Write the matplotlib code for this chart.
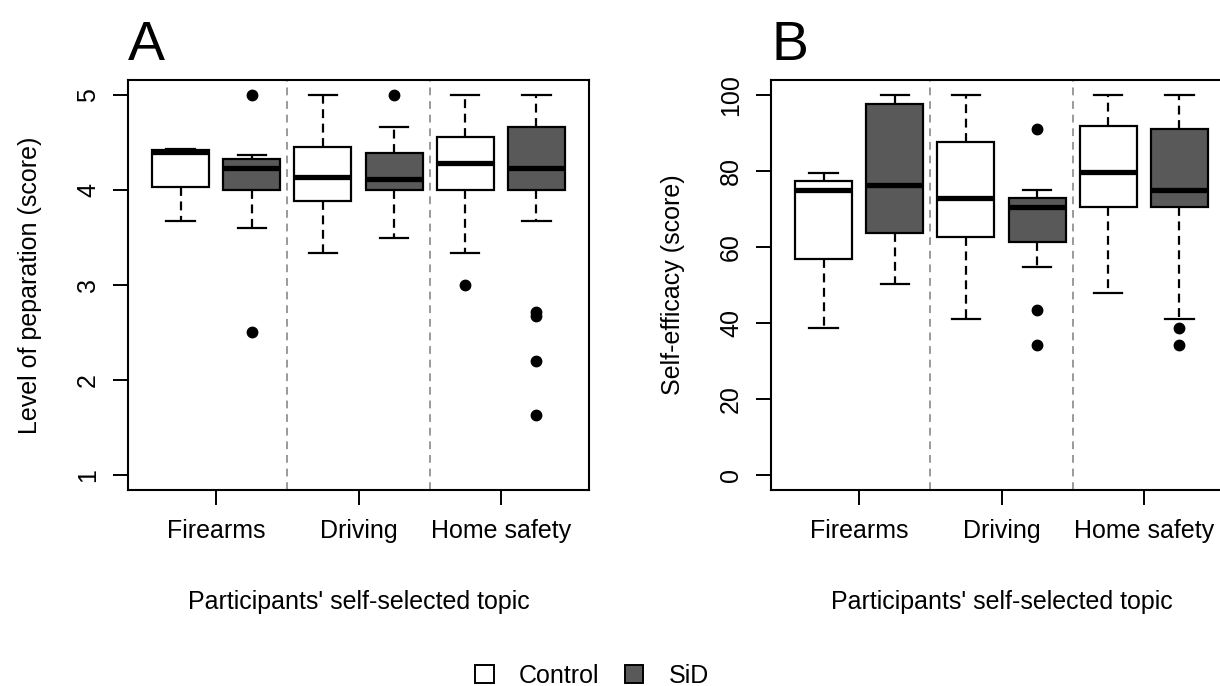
import matplotlib.pyplot as plt
from matplotlib.patches import Patch

plt.rcParams['font.family'] = ['Liberation Sans', 'DejaVu Sans']

topics = ["Firearms", "Driving", "Home safety"]
groups = ["Control", "SiD"]
group_colors = ["white", "#595959"]

# boxes in order: Control/SiD for Firearms, Driving, Home safety
# panel A: level of preparation
prep_lo = [3.67, 3.60, 3.34, 3.50, 3.34, 3.67]
prep_q1 = [4.03, 4.00, 3.88, 4.00, 4.00, 4.00]
prep_med = [4.40, 4.23, 4.14, 4.12, 4.29, 4.23]
prep_q3 = [4.42, 4.33, 4.45, 4.39, 4.56, 4.67]
prep_hi = [4.43, 4.37, 5.00, 4.67, 5.00, 5.00]
prep_out = [[], [5.0, 2.5], [], [5.0], [3.0], [2.72, 2.67, 2.2, 1.63]]

# panel B: self-efficacy
eff_lo = [38.7, 50.2, 41.1, 54.7, 47.8, 41.1]
eff_q1 = [56.9, 63.7, 62.6, 61.4, 70.6, 70.6]
eff_med = [75.0, 76.3, 72.9, 70.5, 79.7, 75.1]
eff_q3 = [77.3, 97.8, 87.6, 72.8, 92.0, 91.0]
eff_hi = [79.6, 100.0, 100.0, 75.0, 100.0, 100.0]
eff_out = [[], [], [], [91.0, 43.4, 34.2], [], [38.7, 34.2]]


def draw_panel(ax, lo, q1, med, q3, hi, out, yticks, ylabel, letter):
    stats = []
    for i in range(len(med)):
        stats.append(dict(whislo=lo[i], q1=q1[i], med=med[i], q3=q3[i],
                          whishi=hi[i], fliers=out[i]))
    pos = list(range(1, len(stats) + 1))
    bp = ax.bxp(stats, positions=pos, widths=0.8, patch_artist=True,
                capwidths=0.4, showfliers=True,
                boxprops=dict(edgecolor="black", linewidth=1.6),
                medianprops=dict(color="black", linewidth=3.8, solid_capstyle="butt"),
                whiskerprops=dict(color="black", linewidth=1.6, linestyle=(0, (4, 2.5))),
                capprops=dict(color="black", linewidth=1.6),
                flierprops=dict(marker="o", markerfacecolor="black",
                                markeredgecolor="black", markersize=7.5))
    for i, b in enumerate(bp["boxes"]):
        b.set_facecolor(group_colors[i % 2])
    for x in [2.5, 4.5]:
        ax.axvline(x, color="#9a9a9a", linestyle=(0, (4, 3)), linewidth=1.4, zorder=0)
    ax.set_xlim(0.26, 6.74)
    rng = yticks[-1] - yticks[0]
    ax.set_ylim(yticks[0] - 0.04 * rng, yticks[-1] + 0.04 * rng)
    ax.set_xticks([1.5, 3.5, 5.5])
    ax.set_xticklabels(topics)
    ax.set_yticks(yticks)
    ax.set_yticklabels([str(t) for t in yticks], rotation=90, va="center")
    ax.tick_params(axis="both", labelsize=18, length=11, width=1.4, direction="out")
    ax.tick_params(axis="x", pad=10)
    ax.tick_params(axis="y", pad=9)
    for s in ax.spines.values():
        s.set_linewidth(1.5)
    ax.set_xlabel("Participants' self-selected topic", fontsize=18)
    ax.xaxis.set_label_coords(0.5, -0.245)
    ax.set_ylabel(ylabel, fontsize=18)
    ax.yaxis.set_label_coords(-0.187, 0.5)
    ax.text(0.0, 1.048, letter, transform=ax.transAxes, fontsize=40,
            ha="left", va="baseline")


fig = plt.figure(figsize=(12.2, 6.86), dpi=100)
axA = fig.add_axes([128 / 1220, 1 - 490 / 686, 461 / 1220, 410 / 686])
axB = fig.add_axes([771 / 1220, 1 - 490 / 686, 461 / 1220, 410 / 686])

draw_panel(axA, prep_lo, prep_q1, prep_med, prep_q3, prep_hi, prep_out,
           [1, 2, 3, 4, 5], "Level of peparation (score)", "A")
draw_panel(axB, eff_lo, eff_q1, eff_med, eff_q3, eff_hi, eff_out,
           [0, 20, 40, 60, 80, 100], "Self-efficacy (score)", "B")

handles = [Patch(facecolor=c, edgecolor="black", linewidth=1.4) for c in group_colors]
fig.legend(handles, groups, loc="center", bbox_to_anchor=(592 / 1220, 1 - 676 / 686),
           ncol=2, frameon=False, fontsize=18, handlelength=0.75, handleheight=0.75,
           handletextpad=1.0, columnspacing=1.0, borderpad=0.1)

fig.savefig("out.png", dpi=100)
